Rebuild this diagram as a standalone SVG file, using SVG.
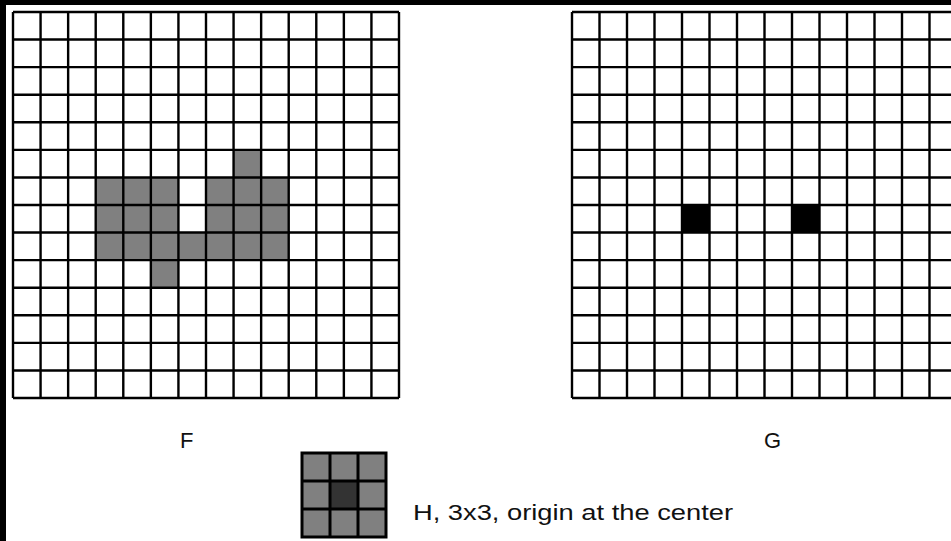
<svg xmlns="http://www.w3.org/2000/svg" width="951" height="541" viewBox="0 0 951 541">
<style>
.bg{fill:#fff}
.grid{stroke:#000;stroke-width:2.4;fill:none}
.g{fill:#808080}
.k{fill:#000}
.d{fill:#333}
.lbl{font-family:"Liberation Sans",Arial,sans-serif;font-size:22px;fill:#111}
</style>
<rect x="0" y="0" width="951" height="541" fill="#000"/>
<rect class="bg" x="6" y="5" width="945" height="536"/>
<g id="F">
<g class="g">
<rect x="233.6" y="149.9" width="27.6" height="27.6"/>
<rect x="95.7" y="177.4" width="82.7" height="55.2"/>
<rect x="206" y="177.4" width="82.7" height="55.2"/>
<rect x="95.7" y="232.6" width="193" height="27.6"/>
<rect x="150.9" y="260.1" width="27.6" height="27.6"/>
</g>
<path class="grid" d="M13 12V398M40.57 12V398M68.14 12V398M95.71 12V398M123.29 12V398M150.86 12V398M178.43 12V398M206 12V398M233.57 12V398M261.14 12V398M288.71 12V398M316.29 12V398M343.86 12V398M371.43 12V398M399 12V398
M13 12H399M13 39.57H399M13 67.14H399M13 94.71H399M13 122.29H399M13 149.86H399M13 177.43H399M13 205H399M13 232.57H399M13 260.14H399M13 287.71H399M13 315.29H399M13 342.86H399M13 370.43H399M13 398H399"/>
<text class="lbl" x="180" y="448">F</text>
</g>
<g id="G">
<rect class="k" x="682" y="205" width="27.5" height="27.6"/>
<rect class="k" x="792" y="205" width="27.5" height="27.6"/>
<path class="grid" d="M572 12V398M599.5 12V398M627 12V398M654.5 12V398M682 12V398M709.5 12V398M737 12V398M764.5 12V398M792 12V398M819.5 12V398M847 12V398M874.5 12V398M902 12V398M929.5 12V398
M572 12H951M572 39.57H951M572 67.14H951M572 94.71H951M572 122.29H951M572 149.86H951M572 177.43H951M572 205H951M572 232.57H951M572 260.14H951M572 287.71H951M572 315.29H951M572 342.86H951M572 370.43H951M572 398H951"/>
<text class="lbl" x="764" y="448">G</text>
</g>
<g id="H">
<rect class="g" x="302" y="453" width="84" height="84"/>
<rect class="d" x="330" y="481" width="28" height="28"/>
<path class="grid" style="stroke-width:3" d="M302 453H386V537H302ZM330 453V537M358 453V537M302 481H386M302 509H386"/>
<text class="lbl" x="413" y="520" textLength="320" lengthAdjust="spacingAndGlyphs">H, 3x3, origin at the center</text>
</g>
</svg>
